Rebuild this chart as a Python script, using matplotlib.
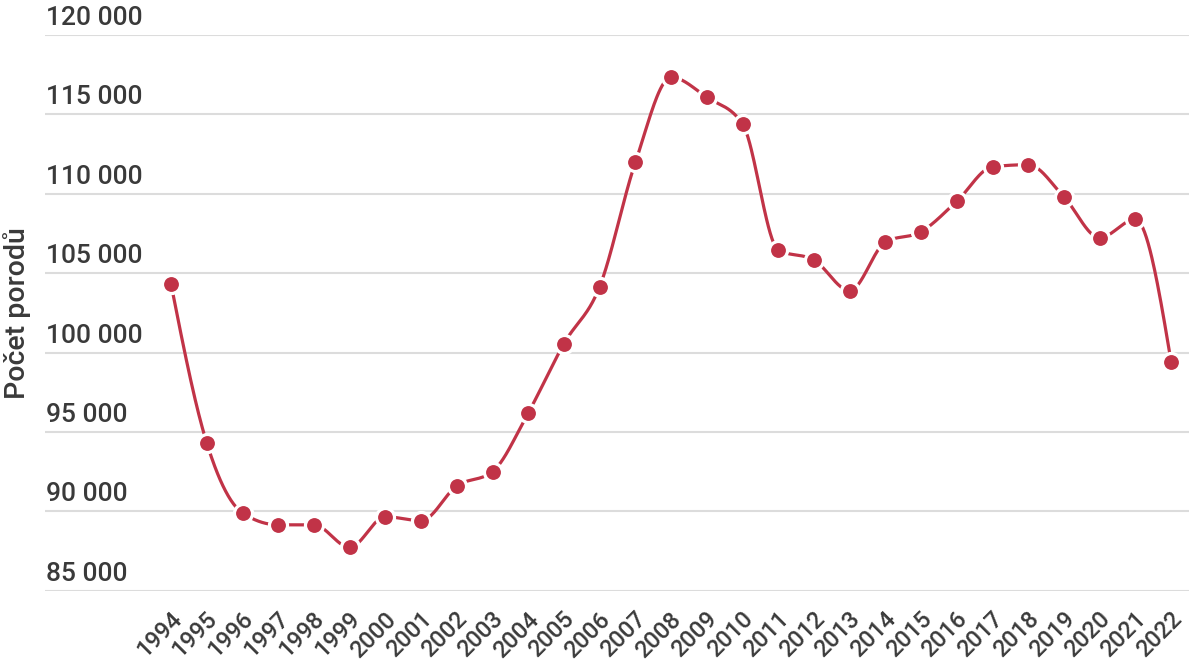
import numpy as np
import matplotlib
matplotlib.use("Agg")
import matplotlib.pyplot as plt
from matplotlib.transforms import blended_transform_factory, offset_copy, ScaledTranslation

years = list(range(1994, 2023))
deliveries = [104300, 94300, 89900, 89150, 89150, 87730, 89660, 89410, 91600, 92500,
              96200, 100560, 104150, 111980, 117340, 116080, 114400, 106460, 105830, 103900,
              106960, 107610, 109530, 111700, 111830, 109800, 107230, 108390, 99430]
y_ticks = [85000, 90000, 95000, 100000, 105000, 110000, 115000, 120000]
y_tick_labels = ["85 000", "90 000", "95 000", "100 000", "105 000", "110 000", "115 000", "120 000"]
y_label = "Počet porodů"

LINE = "#c13347"
TEXT = "#3a3a3a"
GRID = "#dcdcdc"


def monotone_x(x, y, n=40):
    """d3.curveMonotoneX style interpolation of the path between the data points."""
    x = np.asarray(x, float)
    y = np.asarray(y, float)
    h = np.diff(x)
    s = np.diff(y) / h
    m = np.zeros_like(y)
    for k in range(1, len(y) - 1):
        s0, s1 = s[k - 1], s[k]
        p = (s0 * h[k] + s1 * h[k - 1]) / (h[k - 1] + h[k])
        m[k] = (np.sign(s0) + np.sign(s1)) * min(abs(s0), abs(s1), 0.5 * abs(p))
    m[0] = (3 * s[0] - m[1]) / 2
    m[-1] = (3 * s[-1] - m[-2]) / 2
    xs, ys = [], []
    for k in range(len(y) - 1):
        t = np.linspace(0, 1, n, endpoint=(k == len(y) - 2))
        h00 = 2 * t**3 - 3 * t**2 + 1
        h10 = t**3 - 2 * t**2 + t
        h01 = -2 * t**3 + 3 * t**2
        h11 = t**3 - t**2
        xs.append(x[k] + t * h[k])
        ys.append(h00 * y[k] + h10 * h[k] * m[k] + h01 * y[k + 1] + h11 * h[k] * m[k + 1])
    return np.concatenate(xs), np.concatenate(ys)


plt.rcParams["font.family"] = ["Roboto", "DejaVu Sans"]

fig = plt.figure(figsize=(12, 6.68), dpi=100)
ax = fig.add_axes([0.0375, 0.1157, 0.9533, 0.8319])

ax.set_xlim(1990.47, 2022.5)
ax.set_ylim(85000, 120000)

for v in y_ticks:
    ax.axhline(v, color=GRID, lw=1.5, zorder=0)

cx, cy = monotone_x(years, deliveries)
ax.plot(cx, cy, color=LINE, lw=2.3, solid_capstyle="round", zorder=2)
ax.plot(years, deliveries, linestyle="none", marker="o", markersize=13,
        markerfacecolor=LINE, markeredgecolor="white", markeredgewidth=2.3, zorder=3)

for sp in ax.spines.values():
    sp.set_visible(False)

ax.set_yticks([])
trans = offset_copy(blended_transform_factory(ax.transAxes, ax.transData),
                    fig=fig, x=1.5, y=5, units="dots")
for v, lab in zip(y_ticks, y_tick_labels):
    ax.text(0.0, v, lab, transform=trans, ha="left", va="bottom",
            fontsize=19, color=TEXT, fontweight="medium")

ax.set_xticks(years)
ax.set_xticklabels([str(y) for y in years], rotation=45, ha="right",
                   rotation_mode="anchor", fontsize=17, color=TEXT, fontweight="medium")
ax.tick_params(axis="x", length=0, pad=8)
for lbl in ax.get_xticklabels():
    lbl.set_va("center")
    lbl.set_transform(lbl.get_transform() + ScaledTranslation(7 / 100, -14 / 100, fig.dpi_scale_trans))

ax.set_ylabel(y_label, fontsize=20.5, color=TEXT, fontweight="medium")
ax.yaxis.set_label_coords(-0.012, 0.5)

fig.savefig("out.png", dpi=100)
